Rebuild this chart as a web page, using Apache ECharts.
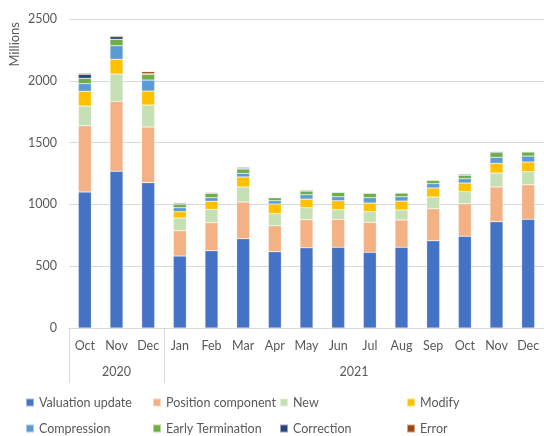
<!DOCTYPE html>
<html>
<head>
<meta charset="utf-8">
<script src="https://cdn.jsdelivr.net/npm/echarts@6/dist/echarts.min.js"></script>
<style>
  html, body { margin: 0; padding: 0; background: #fff; }
  #chart { width: 544px; height: 436px; }
</style>
</head>
<body>
<div id="chart"></div>
<script>
// months Oct 2020 .. Dec 2021
const months = ['Oct', 'Nov', 'Dec', 'Jan', 'Feb', 'Mar', 'Apr', 'May', 'Jun', 'Jul', 'Aug', 'Sep', 'Oct', 'Nov', 'Dec']
const years = ['2020', '2021']
const yTicks = [0, 500, 1000, 1500, 2000, 2500]

const valuationUpdate = [1100, 1268, 1176, 582, 625, 722, 617, 649, 653, 612, 653, 706, 742, 860, 879]
const positionComponent = [537, 566, 450, 205, 227, 297, 211, 227, 226, 243, 221, 259, 264, 281, 280]
const newTrades = [159, 221, 178, 103, 108, 122, 97, 97, 78, 86, 81, 95, 97, 113, 106]
const modify = [119, 119, 113, 51, 65, 81, 78, 70, 73, 70, 72, 73, 70, 78, 78]
const compression = [62, 110, 89, 32, 29, 30, 27, 35, 32, 43, 35, 35, 35, 49, 48]
const earlyTermination = [43, 52, 46, 27, 36, 34, 24, 30, 36, 36, 30, 27, 28, 38, 33]
const correction = [32, 21, 5, 8, 5, 7, 3, 5, 2, 4, 4, 4, 8, 8, 5]
const error = [8, 8, 17, 6, 5, 7, 3, 6, 3, 4, 4, 4, 4, 3, 3]

const seriesList = [
  { name: 'Valuation update', data: valuationUpdate, color: '#4472C4' },
  { name: 'Position component', data: positionComponent, color: '#F4B183' },
  { name: 'New', data: newTrades, color: '#C5E0B4' },
  { name: 'Modify', data: modify, color: '#FFC000' },
  { name: 'Compression', data: compression, color: '#5B9BD5' },
  { name: 'Early Termination', data: earlyTermination, color: '#70AD47' },
  { name: 'Correction', data: correction, color: '#264478' },
  { name: 'Error', data: error, color: '#9E480E' }
]

const textColor = '#595959'
const lineColor = '#d9d9d9'
const font = 'Lato'

// legend positions (one legend per item, 4 columns x 2 rows)
const legendLeft = [20, 147, 274, 401]
const legendTop = [391, 417]

const chart = echarts.init(document.getElementById('chart'))
chart.setOption({
  animation: false,
  textStyle: { fontFamily: font },
  grid: {
    left: 69,
    right: -2,
    top: 19,
    bottom: 108
  },
  legend: seriesList.map((s, i) => ({
    data: [s.name],
    left: legendLeft[i % 4],
    top: legendTop[Math.floor(i / 4)],
    itemWidth: 8,
    itemHeight: 8,
    itemGap: 4,
    icon: 'rect',
    selectedMode: false,
    textStyle: { color: textColor, fontSize: 12.5, fontFamily: font }
  })),
  graphic: [{
    type: 'text',
    left: 8,
    top: 22,
    rotation: Math.PI / 2,
    style: {
      text: 'Millions',
      fill: textColor,
      fontSize: 13,
      fontFamily: font
    }
  }],
  xAxis: [{
    type: 'category',
    data: months,
    axisLine: { lineStyle: { color: lineColor } },
    axisTick: { show: false },
    axisLabel: { color: textColor, fontSize: 12.5, margin: 11, interval: 0 }
  }, {
    type: 'value',
    min: 0,
    max: 15,
    position: 'bottom',
    axisLine: { show: false },
    splitLine: { show: false },
    axisTick: {
      show: true,
      customValues: [0, 3, 15],
      length: 55,
      lineStyle: { color: lineColor }
    },
    axisLabel: {
      customValues: [1.5, 9],
      formatter: v => (v < 3 ? years[0] : years[1]),
      color: textColor,
      fontSize: 12.5,
      margin: 37
    }
  }],
  yAxis: {
    type: 'value',
    min: yTicks[0],
    max: yTicks[yTicks.length - 1],
    interval: 500,
    axisLine: { show: false },
    axisTick: { show: false },
    axisLabel: { color: textColor, fontSize: 12.5, margin: 12, formatter: v => String(v) },
    splitLine: { lineStyle: { color: lineColor, width: 1 } }
  },
  series: seriesList.map(s => ({
    name: s.name,
    type: 'bar',
    stack: 'total',
    barWidth: 13,
    data: s.data,
    itemStyle: {
      color: s.color,
      borderColor: 'rgba(255,255,255,0.5)',
      borderWidth: 0.5
    }
  }))
})
</script>
</body>
</html>
